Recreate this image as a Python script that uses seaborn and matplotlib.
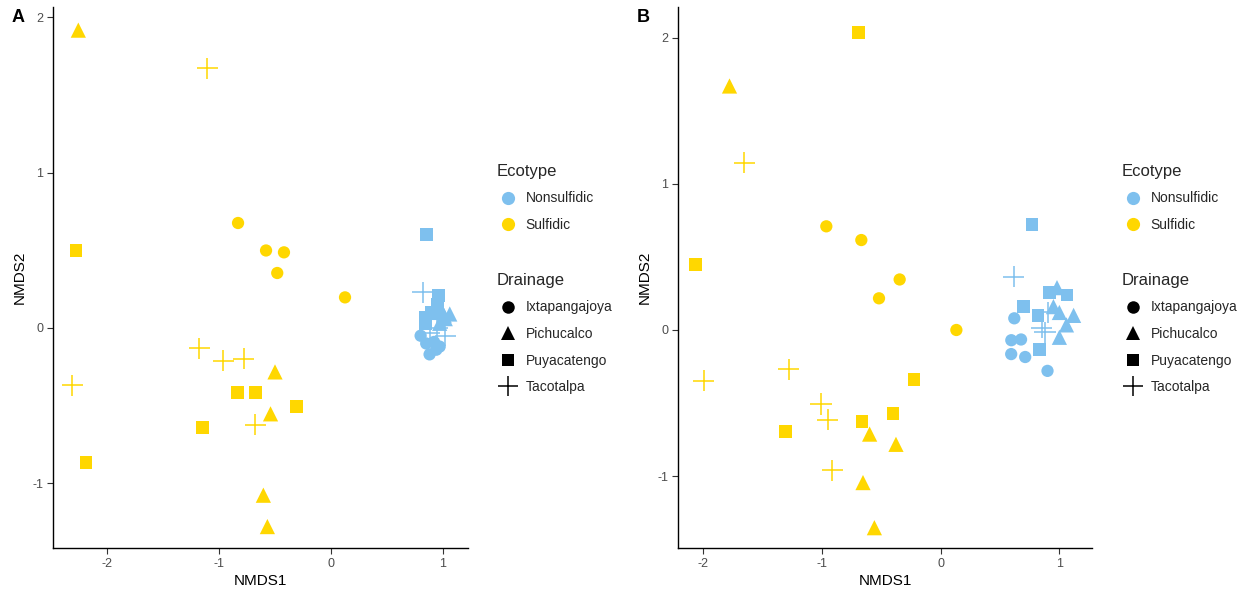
import matplotlib
matplotlib.use("Agg")
import matplotlib.pyplot as plt
from matplotlib.lines import Line2D
import pandas as pd
import seaborn as sns

sns.set_theme(style="white")
plt.rcParams["font.family"] = ["Liberation Sans", "DejaVu Sans"]

# ---- NMDS ordination scores, panel A ----
nmds1_a = [-0.83, -0.58, -0.42, -0.48, 0.125,
           -2.256, -0.50, -0.54, -0.604, -0.568,
           -2.277, -2.188, -1.149, -0.833, -0.673, -0.307,
           -1.104, -2.31, -1.176, -0.961, -0.78, -0.676,
           0.80, 0.85, 0.88, 0.97, 0.92, 0.94,
           1.06, 0.97, 0.98, 1.01, 0.93, 1.02,
           0.854, 0.96, 0.84, 0.90, 0.95, 0.84,
           0.82, 1.02, 0.88, 0.95]
nmds2_a = [0.676, 0.499, 0.487, 0.354, 0.197,
           1.918, -0.283, -0.553, -1.077, -1.279,
           0.497, -0.866, -0.639, -0.413, -0.413, -0.504,
           1.672, -0.369, -0.130, -0.211, -0.197, -0.622,
           -0.05, -0.10, -0.17, -0.12, -0.09, -0.14,
           0.09, 0.03, 0.12, 0.08, 0.10, 0.06,
           0.60, 0.21, 0.07, 0.10, 0.15, 0.03,
           0.23, -0.05, -0.03, 0.0]

# ---- NMDS ordination scores, panel B ----
nmds1_b = [-0.964, -0.669, -0.346, -0.52, 0.132,
           -1.78, -0.599, -0.377, -0.655, -0.559,
           -0.692, -2.064, -1.31, -0.663, -0.402, -0.225,
           -1.656, -1.999, -1.282, -1.009, -0.953, -0.914,
           0.62, 0.595, 0.677, 0.594, 0.712, 0.90,
           0.98, 0.95, 1.0, 1.12, 1.06, 1.0,
           0.77, 0.915, 1.065, 0.70, 0.82, 0.833,
           0.614, 0.85, 0.88, 0.907]
nmds2_b = [0.71, 0.616, 0.346, 0.217, 0.0,
           1.671, -0.713, -0.783, -1.045, -1.354,
           2.036, 0.448, -0.694, -0.626, -0.574, -0.341,
           1.147, -0.348, -0.27, -0.506, -0.613, -0.962,
           0.08, -0.07, -0.065, -0.165, -0.185, -0.28,
           0.29, 0.16, 0.12, 0.10, 0.035, -0.05,
           0.72, 0.255, 0.24, 0.16, 0.10, -0.133,
           0.365, 0.015, -0.015, 0.12]

# sample groups (same order in both panels)
ecotype = ["Sulfidic"] * 22 + ["Nonsulfidic"] * 22
drainage = (["Ixtapangajoya"] * 5 + ["Pichucalco"] * 5 + ["Puyacatengo"] * 6 + ["Tacotalpa"] * 6
            + ["Ixtapangajoya"] * 6 + ["Pichucalco"] * 6 + ["Puyacatengo"] * 6 + ["Tacotalpa"] * 4)

ecotype_levels = ["Nonsulfidic", "Sulfidic"]
drainage_levels = ["Ixtapangajoya", "Pichucalco", "Puyacatengo", "Tacotalpa"]

palette = {"Nonsulfidic": "#7EC0EE", "Sulfidic": "#FFD700"}
shape = {"Ixtapangajoya": "o", "Pichucalco": "^", "Puyacatengo": "s", "Tacotalpa": "+"}
msize = {"Ixtapangajoya": 78, "Pichucalco": 120, "Puyacatengo": 85, "Tacotalpa": 235}

W, H = 1245, 599
fig = plt.figure(figsize=(W / 100, H / 100), dpi=100)


def px_axes(x0, x1, y0, y1):
    return fig.add_axes([x0 / W, 1 - y1 / H, (x1 - x0) / W, (y1 - y0) / H])


ax_a = px_axes(53, 468, 7, 548)
ax_b = px_axes(678, 1092, 7, 548)

panels = [
    (ax_a, nmds1_a, nmds2_a, (-2.482, 1.223), (-1.417, 2.067), "A", 497),
    (ax_b, nmds1_b, nmds2_b, (-2.214, 1.275), (-1.493, 2.212), "B", 1122),
]
xt = [-2, -1, 0, 1]
yt = [-1, 0, 1, 2]

tick_grey = "#4D4D4D"

for ax, xs, ys, xlim, ylim, tag, legx in panels:
    df = pd.DataFrame({"NMDS1": xs, "NMDS2": ys, "Ecotype": ecotype, "Drainage": drainage})
    for d in drainage_levels:
        sub = df[df["Drainage"] == d]
        if shape[d] == "+":
            sns.scatterplot(data=sub, x="NMDS1", y="NMDS2", hue="Ecotype", palette=palette,
                            marker="+", s=msize[d], linewidth=1.1, legend=False, ax=ax)
        else:
            sns.scatterplot(data=sub, x="NMDS1", y="NMDS2", hue="Ecotype", palette=palette,
                            marker=shape[d], s=msize[d], linewidth=0, legend=False, ax=ax)
    ax.set_xlim(*xlim)
    ax.set_ylim(*ylim)
    ax.set_xticks(xt)
    ax.set_yticks(yt)
    ax.set_xticklabels([str(v) for v in xt])
    ax.set_yticklabels([str(v) for v in yt])
    ax.tick_params(axis="both", which="major", length=4, width=0.8, color="#333333",
                   labelcolor=tick_grey, labelsize=9, pad=3, bottom=True, left=True)
    for side in ("top", "right"):
        ax.spines[side].set_visible(False)
    for side in ("left", "bottom"):
        ax.spines[side].set_color("black")
        ax.spines[side].set_linewidth(1.0)
    ax.set_xlabel("NMDS1", fontsize=11, color="black", labelpad=3)
    ax.set_ylabel("NMDS2", fontsize=11, color="black", labelpad=4)
    ax.grid(False)

    # panel tag
    bbox = ax.get_position()
    fig.text(bbox.x0 - 41 / W, 1 - 18 / H, tag, fontsize=13, fontweight="bold",
             color="black", ha="left", va="center")

    leg_kw = dict(loc="upper left", bbox_transform=fig.transFigure, frameon=False,
                  fontsize=10, title_fontsize=12, alignment="left", borderpad=0,
                  borderaxespad=0, handlelength=1.6, handletextpad=0.45, labelspacing=0.9)

    # Ecotype legend
    eco_handles = [Line2D([], [], marker="o", linestyle="", markersize=9.5,
                          markerfacecolor=palette[e], markeredgewidth=0, label=e)
                   for e in ecotype_levels]
    leg1 = ax.legend(handles=eco_handles, title="Ecotype",
                     bbox_to_anchor=(legx / W, 1 - 164 / H), **leg_kw)
    ax.add_artist(leg1)

    # Drainage legend
    dr_sizes = {"o": 9, "^": 10.5, "s": 9, "+": 15}
    dr_handles = [Line2D([], [], marker=shape[d], linestyle="", markersize=dr_sizes[shape[d]],
                         color="black", markerfacecolor="black",
                         markeredgewidth=(1.1 if shape[d] == "+" else 0), label=d)
                  for d in drainage_levels]
    ax.legend(handles=dr_handles, title="Drainage",
              bbox_to_anchor=(legx / W, 1 - 273 / H), **leg_kw)

fig.savefig("out.png", dpi=100)
